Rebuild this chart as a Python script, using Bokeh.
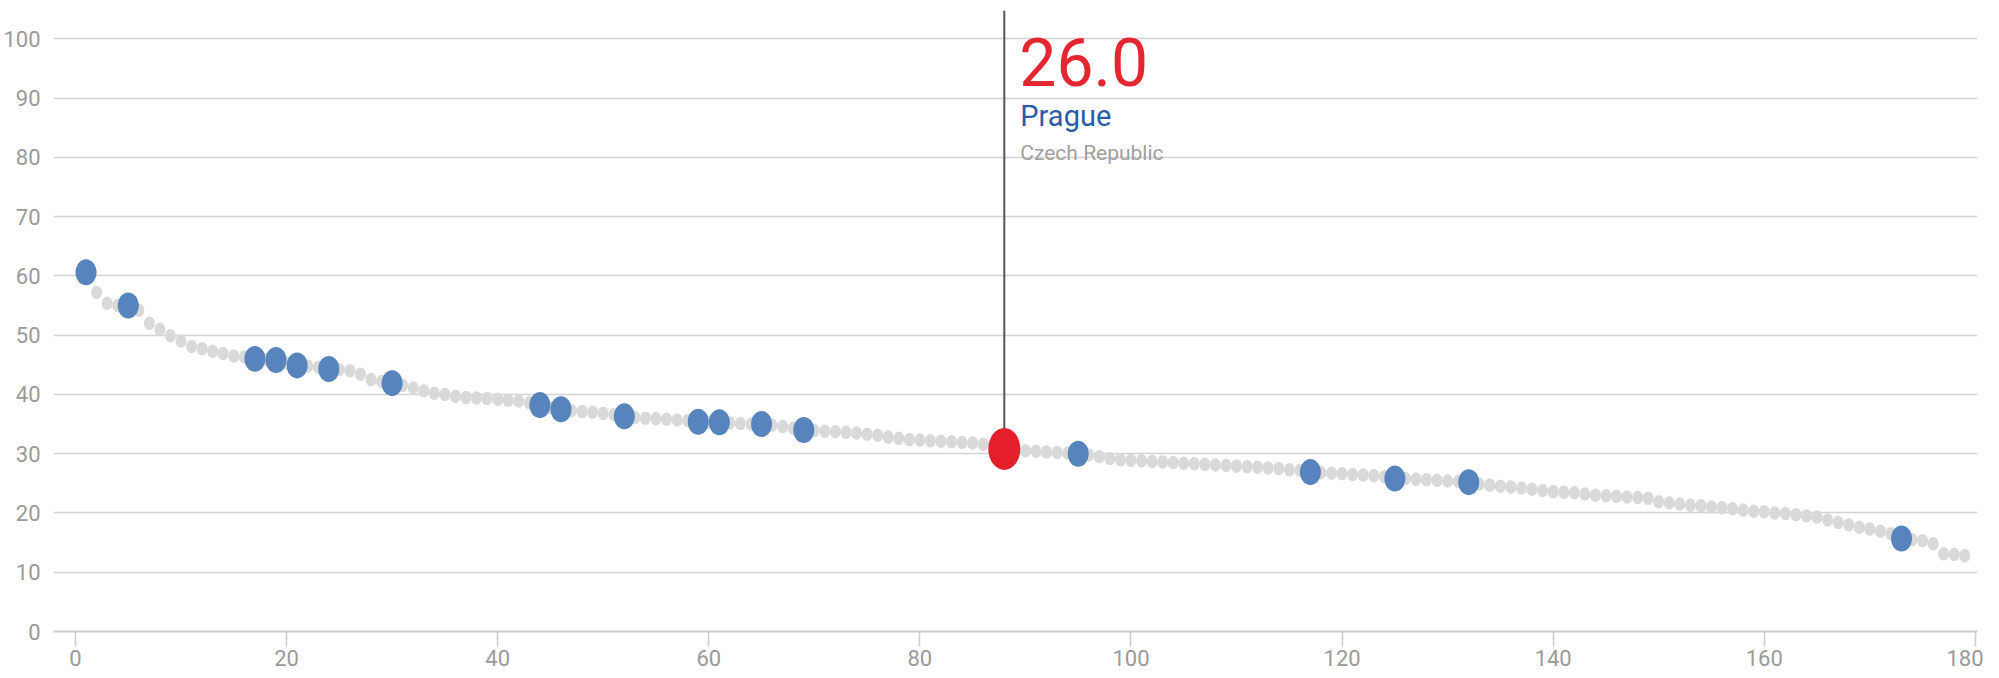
from bokeh.plotting import figure
from bokeh.models import Range1d, SingleIntervalTicker, ColumnDataSource
from bokeh.core.properties import value
from bokeh.embed import file_html
from bokeh.resources import INLINE

# ---- data ----
all_values = [
    60.6, 57.2, 55.4, 55.0, 54.8, 54.2, 52.0, 51.0, 49.9, 49.0,
    48.1, 47.7, 47.3, 46.9, 46.5, 46.3, 46.0, 45.9, 45.8, 45.3,
    44.9, 44.8, 44.6, 44.3, 44.2, 44.0, 43.4, 42.5, 42.2, 41.9,
    41.5, 41.1, 40.6, 40.2, 40.0, 39.7, 39.5, 39.4, 39.3, 39.2,
    39.0, 38.9, 38.6, 38.2, 37.8, 37.5, 37.3, 37.1, 37.0, 36.8,
    36.6, 36.3, 36.1, 36.0, 35.9, 35.8, 35.7, 35.6, 35.4, 35.3,
    35.3, 35.2, 35.1, 35.0, 35.0, 34.8, 34.6, 34.3, 34.0, 33.9,
    33.8, 33.7, 33.6, 33.5, 33.3, 33.1, 32.8, 32.6, 32.4, 32.3,
    32.2, 32.1, 32.0, 31.9, 31.8, 31.6, 31.5, 30.8, 30.6, 30.5,
    30.4, 30.3, 30.2, 30.1, 30.0, 29.8, 29.5, 29.2, 29.0, 28.9,
    28.8, 28.7, 28.6, 28.5, 28.4, 28.3, 28.2, 28.1, 28.0, 27.9,
    27.8, 27.7, 27.6, 27.5, 27.3, 27.2, 26.9, 26.8, 26.7, 26.6,
    26.5, 26.4, 26.3, 26.1, 25.8, 25.8, 25.7, 25.6, 25.5, 25.4,
    25.3, 25.2, 24.9, 24.7, 24.5, 24.4, 24.2, 24.0, 23.8, 23.6,
    23.5, 23.4, 23.2, 23.0, 22.9, 22.8, 22.7, 22.6, 22.5, 21.9,
    21.7, 21.5, 21.3, 21.2, 21.0, 20.9, 20.7, 20.5, 20.3, 20.2,
    20.0, 19.9, 19.7, 19.5, 19.3, 18.8, 18.4, 18.0, 17.6, 17.3,
    16.9, 16.5, 15.7, 15.5, 15.3, 14.8, 13.1, 13.0, 12.8,
]
all_ranks = list(range(1, len(all_values) + 1))

highlight_ranks = [1, 5, 17, 19, 21, 24, 30, 44, 46, 52, 59, 61, 65, 69,
                   95, 117, 125, 132, 173]
highlight_values = [60.6, 55.0, 46.0, 45.8, 44.9, 44.3, 41.9, 38.2, 37.5,
                    36.3, 35.4, 35.3, 35.0, 34.0, 30.0, 26.9, 25.8, 25.2, 15.7]

selected_rank = [88]
selected_value = [30.8]
selected_score = ["26.0"]
selected_city = ["Prague"]
selected_country = ["Czech Republic"]

x_ticks_interval = 20
y_ticks_interval = 10

# ---- figure ----
Y_TOP = 104.78
p = figure(width=1983, height=676,
           x_range=Range1d(-2.08, 180.2), y_range=Range1d(0, Y_TOP),
           output_backend="svg", toolbar_location=None,
           min_border_left=53, min_border_right=6,
           min_border_top=10, min_border_bottom=45)
p.outline_line_color = None
p.background_fill_color = "white"
p.border_fill_color = "white"

p.xaxis.ticker = SingleIntervalTicker(interval=x_ticks_interval)
p.yaxis.ticker = SingleIntervalTicker(interval=y_ticks_interval)
p.xgrid.visible = False
p.ygrid.grid_line_color = "#d3d3d3"
p.ygrid.grid_line_width = 1.6

tick_font = "Roboto"
tick_color = "#9a9a9a"
p.yaxis.axis_line_color = None
p.yaxis.major_tick_line_color = None
p.yaxis.minor_tick_line_color = None
p.yaxis.major_label_standoff = 7
p.yaxis.major_label_text_font = tick_font
p.yaxis.major_label_text_font_size = "22px"
p.yaxis.major_label_text_color = tick_color

p.xaxis.axis_line_color = "#cccccc"
p.xaxis.axis_line_width = 2
p.xaxis.major_tick_line_color = "#cccccc"
p.xaxis.major_tick_line_width = 1.5
p.xaxis.major_tick_in = 0
p.xaxis.major_tick_out = 15
p.xaxis.minor_tick_line_color = None
p.xaxis.major_label_standoff = 3
p.xaxis.major_label_text_font = tick_font
p.xaxis.major_label_text_font_size = "22px"
p.xaxis.major_label_text_color = tick_color

# ---- marks ----
all_src = ColumnDataSource(dict(x=all_ranks, y=all_values))
p.ellipse(x="x", y="y", width=11, height=13.5, width_units="screen",
          height_units="screen", source=all_src,
          fill_color="#d9d9d9", line_color=None)

hl_src = ColumnDataSource(dict(x=highlight_ranks, y=highlight_values))
p.ellipse(x="x", y="y", width=21, height=26, width_units="screen",
          height_units="screen", source=hl_src,
          fill_color="#5784bc", line_color=None)

sel_src = ColumnDataSource(dict(x=selected_rank, y=selected_value,
                                top=[Y_TOP], score=selected_score,
                                city=selected_city, country=selected_country))
p.segment(x0="x", y0="y", x1="x", y1="top", source=sel_src,
          line_color="#555555", line_width=2)
p.ellipse(x="x", y="y", width=32, height=42, width_units="screen",
          height_units="screen", source=sel_src,
          fill_color="#e41f2b", line_color=None)

p.text(x="x", y=96.1, text="score", source=sel_src, x_offset=15,
       text_font=value("Roboto"), text_font_size="66px",
       text_color="#e3262f", text_baseline="alphabetic", text_align="left")
p.text(x="x", y=86.9, text="city", source=sel_src, x_offset=16,
       text_font=value("Roboto"), text_font_size="29px",
       text_color="#2b5ca8", text_baseline="alphabetic", text_align="left")
p.text(x="x", y=80.8, text="country", source=sel_src, x_offset=16,
       text_font=value("Roboto"), text_font_size="21px",
       text_color="#a0a0a0", text_baseline="alphabetic", text_align="left")

open("out.html", "w").write(file_html(p, INLINE))
